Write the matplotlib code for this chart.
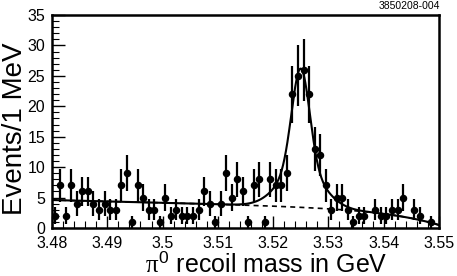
import numpy as np
import matplotlib
matplotlib.use("Agg")
import matplotlib.pyplot as plt
from matplotlib.ticker import MultipleLocator

# ---- data (events per 1 MeV bin) ----
bin_lo = 3.48
bin_width = 0.001
counts = [2, 7, 2, 7, 4, 6, 6, 4, 3, 4,
          3, 3, 7, 9, 1, 7, 5, 3, 3, 1,
          5, 2, 3, 2, 2, 2, 3, 6, 4, 1,
          4, 9, 5, 8, 6, 1, 7, 8, 1, 8,
          7, 7, 9, 22, 25, 26, 22, 13, 12, 7,
          3, 5, 5, 3, 1, 2, 2, 0, 3, 2,
          2, 3, 3, 5, 0, 3, 2, 0, 1, 0]

# ---- fit parameters ----
bg_const = 4.6        # background at 3.48
bg_slope = -0.022     # per MeV
bg_drop_amp = 2.57    # threshold drop near 3.55
bg_drop_scale = 10.1  # MeV
sig_mean = 3.52498
sig_core_amp, sig_core_sigma = 16.3, 0.0016
sig_wide_amp, sig_wide_sigma = 6.5, 0.0038

x_ticks = [3.48, 3.49, 3.5, 3.51, 3.52, 3.53, 3.54, 3.55]
x_tick_labels = ["3.48", "3.49", "3.5", "3.51", "3.52", "3.53", "3.54", "3.55"]
y_ticks = [0, 5, 10, 15, 20, 25, 30, 35]

plt.rcParams['font.family'] = ['Liberation Sans', 'DejaVu Sans']
plt.rcParams['mathtext.fontset'] = 'custom'
plt.rcParams['mathtext.rm'] = 'Liberation Sans'
plt.rcParams['mathtext.it'] = 'Liberation Serif'

def background(x):
    t = (x - bin_lo) / 0.001
    return bg_const + bg_slope * t - bg_drop_amp * np.exp((t - 70) / bg_drop_scale)

def total(x):
    s = (sig_core_amp * np.exp(-0.5 * ((x - sig_mean) / sig_core_sigma) ** 2)
         + sig_wide_amp * np.exp(-0.5 * ((x - sig_mean) / sig_wide_sigma) ** 2))
    return background(x) + s

counts_arr = np.array(counts, dtype=float)
centers = bin_lo + bin_width * (np.arange(len(counts)) + 0.5)
errs = np.sqrt(counts_arr)
mask = counts_arr > 0

fig = plt.figure(figsize=(4.57, 2.76), dpi=100)
ax = fig.add_axes([52 / 457, 1 - 228 / 276, (439 - 52) / 457, (228 - 15) / 276])

xf = np.linspace(3.48, 3.55, 800)
ax.plot(xf, background(xf), color='black', lw=1.2, ls=(0, (3, 2.5)), zorder=2)
ax.plot(xf, total(xf), color='black', lw=1.5, zorder=3)
ax.errorbar(centers[mask], counts_arr[mask], yerr=errs[mask], fmt='o', color='black',
            ms=4.4, elinewidth=1.6, capsize=0, zorder=4)

ax.set_xlim(3.48, 3.55)
ax.set_ylim(0, 35)
ax.set_xticks(x_ticks)
ax.set_xticklabels(x_tick_labels)
ax.set_yticks(y_ticks)
ax.xaxis.set_minor_locator(MultipleLocator(0.002))
ax.yaxis.set_minor_locator(MultipleLocator(1))
ax.tick_params(which='both', direction='in', top=False, right=False, labelsize=11.5, color='black')
ax.tick_params(which='major', length=9, width=1.0)
ax.tick_params(which='minor', length=5, width=0.8)
ax.tick_params(axis='x', which='major', pad=6)
ax.tick_params(axis='y', which='major', pad=5)
for sp in ax.spines.values():
    sp.set_linewidth(1.8)

fig.text(0.004, (276 - 129) / 276, "Events/1 MeV", rotation=90, fontsize=20,
         ha='left', va='center')
fig.text((138 + 395) / 2 / 457, 4 / 276, r"$\pi^0$ recoil mass in GeV", fontsize=18,
         ha='center', va='baseline')
fig.text(440 / 457, 0.995, "3850208-004", fontsize=7.5, ha='right', va='top')

fig.savefig("out.png", dpi=100)
